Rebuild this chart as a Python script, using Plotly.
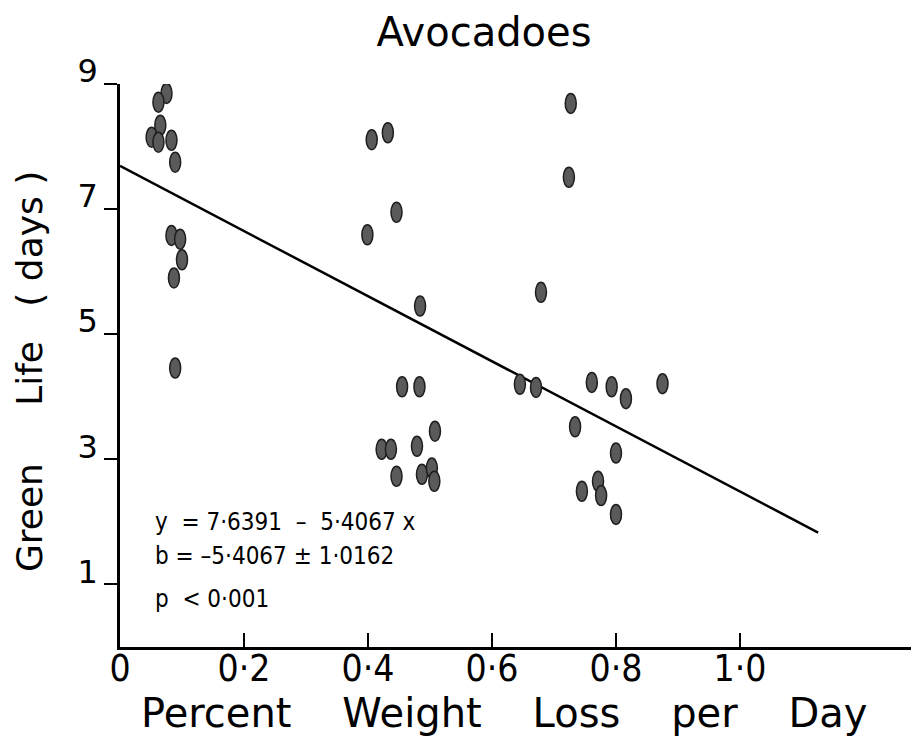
import plotly.graph_objects as go

# ---------------- data ----------------
chart_title = "Avocadoes"
x_title_words = ["Percent", "Weight", "Loss", "per", "Day"]
y_title_words = ["Green", "Life", "( days )"]

pct_loss = [
    0.075, 0.062, 0.065, 0.051, 0.062, 0.083, 0.089, 0.083, 0.097, 0.100, 0.087, 0.089,
    0.406, 0.432, 0.446, 0.399, 0.484, 0.455, 0.483, 0.508, 0.422, 0.437, 0.479, 0.446,
    0.487, 0.503, 0.507,
    0.727, 0.724, 0.679, 0.645, 0.671, 0.761, 0.793, 0.816, 0.875, 0.734, 0.800, 0.745,
    0.771, 0.776, 0.800,
]
green_life = [
    8.85, 8.71, 8.34, 8.15, 8.07, 8.10, 7.75, 6.58, 6.52, 6.19, 5.90, 4.46,
    8.11, 8.22, 6.95, 6.59, 5.45, 4.16, 4.16, 3.45, 3.16, 3.16, 3.21, 2.73,
    2.76, 2.86, 2.65,
    8.69, 7.51, 5.67, 4.20, 4.15, 4.23, 4.16, 3.97, 4.21, 3.52, 3.10, 2.49,
    2.65, 2.42, 2.12,
]

fit_x = [0.0, 1.126]
fit_y = [7.69, 1.83]

x_tick_vals = [0, 0.2, 0.4, 0.6, 0.8, 1.0]
x_tick_text = ["0", "0·2", "0·4", "0·6", "0·8", "1·0"]
y_tick_vals = [1, 3, 5, 7, 9]
y_tick_text = ["1", "3", "5", "7", "9"]

stats_lines = ["y  = 7·6391  –  5·4067 x", "b = –5·4067 ± 1·0162", "p  < 0·001"]
stats_y = [2.0, 1.45, 0.76]

# ---------------- figure ----------------
NB = "\u00a0"
narrow = "Liberation Sans Narrow, DejaVu Sans Condensed, Roboto Condensed, Liberation Sans, sans-serif"
regular = "DejaVu Sans, Liberation Sans, sans-serif"

PAGE = 8  # default page margin of the browser around the figure

fig = go.Figure()

fig.add_trace(go.Scatter(
    x=fit_x, y=fit_y, mode="lines",
    line=dict(color="black", width=2.5),
    hoverinfo="skip", showlegend=False,
))
fig.add_trace(go.Scatter(
    x=pct_loss, y=green_life, mode="markers",
    marker=dict(size=8, color="rgba(0,0,0,0)"),
    showlegend=False,
))

shapes = []
for xv, yv in zip(pct_loss, green_life):
    shapes.append(dict(
        type="circle", xref="x", yref="y",
        xsizemode="pixel", ysizemode="pixel",
        xanchor=xv, yanchor=yv,
        x0=-5.5, x1=5.5, y0=-10, y1=10,
        fillcolor="#5a5a5a", line=dict(color="#1e1e1e", width=1.5),
        layer="above",
    ))

annotations = []
for txt, yv in zip(stats_lines, stats_y):
    annotations.append(dict(
        text=txt, x=0.054, y=yv, xref="x", yref="y",
        xanchor="left", yanchor="middle", showarrow=False,
        font=dict(family=narrow, size=24, color="black"),
    ))

annotations.append(dict(
    text=(NB * 4).join(x_title_words), xref="paper", yref="paper",
    x=(500 - 120) / 799, y=(647 - 713) / 563, xanchor="center", yanchor="middle",
    showarrow=False, font=dict(family=regular, size=40, color="black"),
))
annotations.append(dict(
    text=y_title_words[0] + NB * 5 + y_title_words[1] + NB * 3 + y_title_words[2].replace(" ", NB),
    xref="paper", yref="paper",
    x=(30 - 120) / 799, y=(647 - 372) / 563, xanchor="center", yanchor="middle",
    textangle=-90, showarrow=False, font=dict(family=regular, size=36, color="black"),
))

fig.update_layout(
    width=919, height=755,
    margin=dict(l=120 - PAGE, r=0, t=84 - PAGE, b=755 - 647 + PAGE),
    paper_bgcolor="white", plot_bgcolor="white",
    title=dict(text=chart_title, x=(484 - PAGE) / 919, y=1 - (32 - PAGE) / 755,
               xanchor="center", yanchor="middle",
               xref="container", yref="container",
               font=dict(family=regular, size=40, color="black")),
    shapes=shapes, annotations=annotations,
    font=dict(family=regular, color="black"),
    hovermode="closest",
)
fig.update_xaxes(
    range=[0, 807 / 620], showgrid=False, zeroline=False, automargin=False,
    showline=True, linecolor="black", linewidth=2.5,
    ticks="inside", ticklen=14, tickwidth=2, tickcolor="black",
    tickvals=x_tick_vals, ticktext=x_tick_text,
    tickfont=dict(family=narrow, size=37, color="black"),
    ticklabelstandoff=-13,
)
fig.update_yaxes(
    range=[0, 9], showgrid=False, zeroline=False, automargin=False,
    showline=True, linecolor="black", linewidth=2.5,
    ticks="outside", ticklen=13, tickwidth=2, tickcolor="black",
    tickvals=y_tick_vals, ticktext=y_tick_text,
    tickfont=dict(family=regular, size=32, color="black"),
    ticklabelshift=-13, ticklabelstandoff=0,
)

fig.write_html("out.html")
